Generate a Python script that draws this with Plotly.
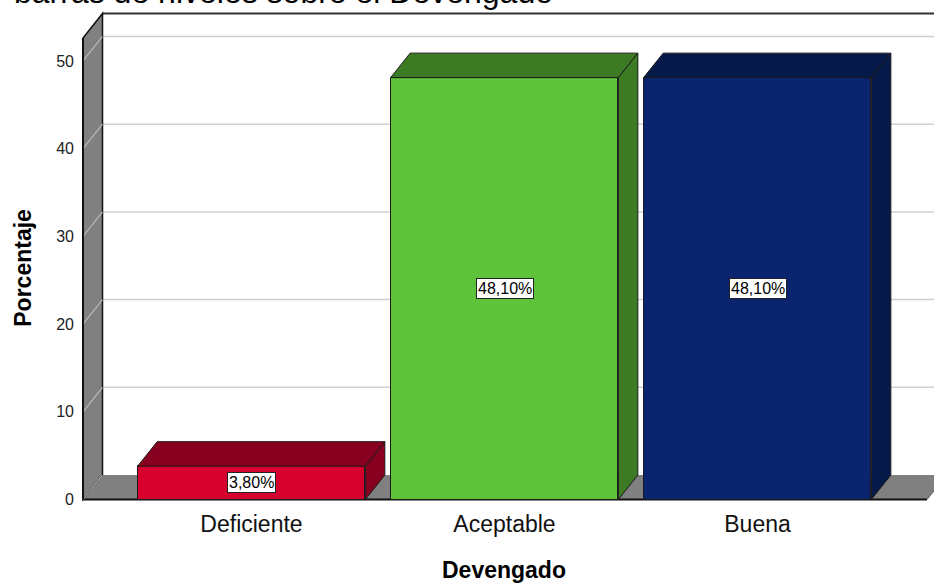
import plotly.graph_objects as go

# ---- data ----
categories = ["Deficiente", "Aceptable", "Buena"]
values = [3.8, 48.1, 48.1]
value_labels = ["3,80%", "48,10%", "48,10%"]
y_ticks = [0, 10, 20, 30, 40, 50]
front_colors = ["#D6002F", "#5EC23A", "#0B2470"]
dark_colors = ["#880020", "#3C7A24", "#061A4A"]

# ---- geometry ----
PX_X = 253.0          # pixels per category
PX_Y = 8.78           # pixels per percent
W, H = 934, 584
x_zero_px = 251.5     # pixel of first category center
y_zero_px = 500.0     # pixel of value 0
plot_left, plot_top, plot_bottom = 78, 10, 503.5

x_range = [(plot_left - x_zero_px) / PX_X, (W - x_zero_px) / PX_X]
y_range = [-(plot_bottom - y_zero_px) / PX_Y, (y_zero_px - plot_top) / PX_Y]

x0 = (83 - x_zero_px) / PX_X          # front edge of left wall
xf = (927 - x_zero_px) / PX_X         # front right edge of floor
dx = 19.5 / PX_X                      # depth offset
dy = 24.5 / PX_Y
ytop = (y_zero_px - 38) / PX_Y        # top of axis wall (front)
bw = 0.9
FONT = "Liberation Sans, Arial"

def path(pts):
    return "M " + " L ".join(f"{a},{b}" for a, b in pts) + " Z"

shapes = []
# back wall
shapes.append(dict(type="rect", x0=x0 + dx, x1=x_range[1] + 0.1, y0=dy, y1=ytop + dy,
                   fillcolor="white", line=dict(width=0), layer="below"))
for v in y_ticks[1:]:
    shapes.append(dict(type="line", x0=x0 + dx, x1=x_range[1] + 0.1, y0=v + dy, y1=v + dy,
                       line=dict(color="#CFCFCF", width=1.5), layer="below"))
shapes.append(dict(type="line", x0=x0 + dx, x1=x_range[1] + 0.1, y0=ytop + dy, y1=ytop + dy,
                   line=dict(color="#333333", width=2), layer="below"))
# floor
shapes.append(dict(type="path", path=path([(x0, 0), (xf, 0), (xf + dx, dy), (x0 + dx, dy)]),
                   fillcolor="#808080", line=dict(width=0), layer="below"))
shapes.append(dict(type="line", x0=x0, x1=xf, y0=0, y1=0,
                   line=dict(color="#111111", width=2), layer="below"))
shapes.append(dict(type="line", x0=xf, x1=xf + dx, y0=0, y1=dy,
                   line=dict(color="#555555", width=1), layer="below"))
# left wall
shapes.append(dict(type="path", path=path([(x0, 0), (x0, ytop), (x0 + dx, ytop + dy), (x0 + dx, dy)]),
                   fillcolor="#808080", line=dict(color="#111111", width=1.5), layer="below"))
for v in y_ticks:
    shapes.append(dict(type="line", x0=x0, x1=x0 + dx, y0=v, y1=v + dy,
                       line=dict(color="#B8B8B8", width=1.2), layer="below"))
shapes.append(dict(type="line", x0=x0, x1=x0, y0=0, y1=ytop,
                   line=dict(color="#111111", width=2), layer="below"))

fig = go.Figure()

# front faces
fig.add_trace(go.Bar(x=list(range(len(categories))), y=values, width=bw,
                     marker=dict(color=front_colors, line=dict(color="#1A1A1A", width=1)),
                     hoverinfo="skip", showlegend=False))

# top and side faces
for i, v in enumerate(values):
    l, r = i - bw / 2, i + bw / 2
    top = [(l, v), (l + dx, v + dy), (r + dx, v + dy), (r, v), (l, v)]
    side = [(r, 0), (r, v), (r + dx, v + dy), (r + dx, dy), (r, 0)]
    for poly in (top, side):
        fig.add_trace(go.Scatter(x=[p[0] for p in poly], y=[p[1] for p in poly],
                                 mode="lines", fill="toself", fillcolor=dark_colors[i],
                                 line=dict(color="#1A1A1A", width=1),
                                 hoverinfo="skip", showlegend=False))

annotations = []
for i, (v, t) in enumerate(zip(values, value_labels)):
    annotations.append(dict(x=i, y=v / 2, text=t, showarrow=False, xref="x", yref="y",
                            font=dict(size=16, color="black", family=FONT),
                            bgcolor="white", bordercolor="#222222", borderwidth=1, borderpad=1))

pix_annots = [
    dict(text="<b>Porcentaje</b>", textangle=-90, x=23, y=268,
         font=dict(size=23, color="black", family=FONT), xanchor="center", yanchor="middle"),
    dict(text="<b>Devengado</b>", x=504, y=571,
         font=dict(size=23, color="black", family=FONT), xanchor="center", yanchor="middle"),
    dict(text="barras de niveles sobre el Devengado", x=12, y=-8,
         font=dict(size=32, color="black", family=FONT), xanchor="left", yanchor="middle"),
]
pw = W - plot_left
ph = plot_bottom - plot_top
for a in pix_annots:
    a.update(xref="paper", yref="paper", showarrow=False,
             x=(a["x"] - plot_left) / pw, y=(plot_bottom - a["y"]) / ph)
    annotations.append(a)

fig.update_layout(
    width=W, height=H,
    margin=dict(l=plot_left, r=0, t=plot_top, b=H - plot_bottom, pad=0),
    paper_bgcolor="white", plot_bgcolor="white",
    shapes=shapes, annotations=annotations,
    xaxis=dict(range=x_range, tickvals=list(range(len(categories))), ticktext=categories,
               showgrid=False, zeroline=False, showline=False, ticks="",
               ticklabelstandoff=5,
               tickfont=dict(size=23, color="#111111", family=FONT)),
    yaxis=dict(range=y_range, tickvals=y_ticks, ticktext=[str(t) for t in y_ticks],
               showgrid=False, zeroline=False, showline=False, ticks="",
               ticklabelstandoff=3,
               tickfont=dict(size=16, color="#222222", family=FONT)),
    bargap=0,
)

fig.write_html("out.html", config={"displayModeBar": False},
               post_script="document.body.style.margin='0';document.body.style.overflow='hidden';")
